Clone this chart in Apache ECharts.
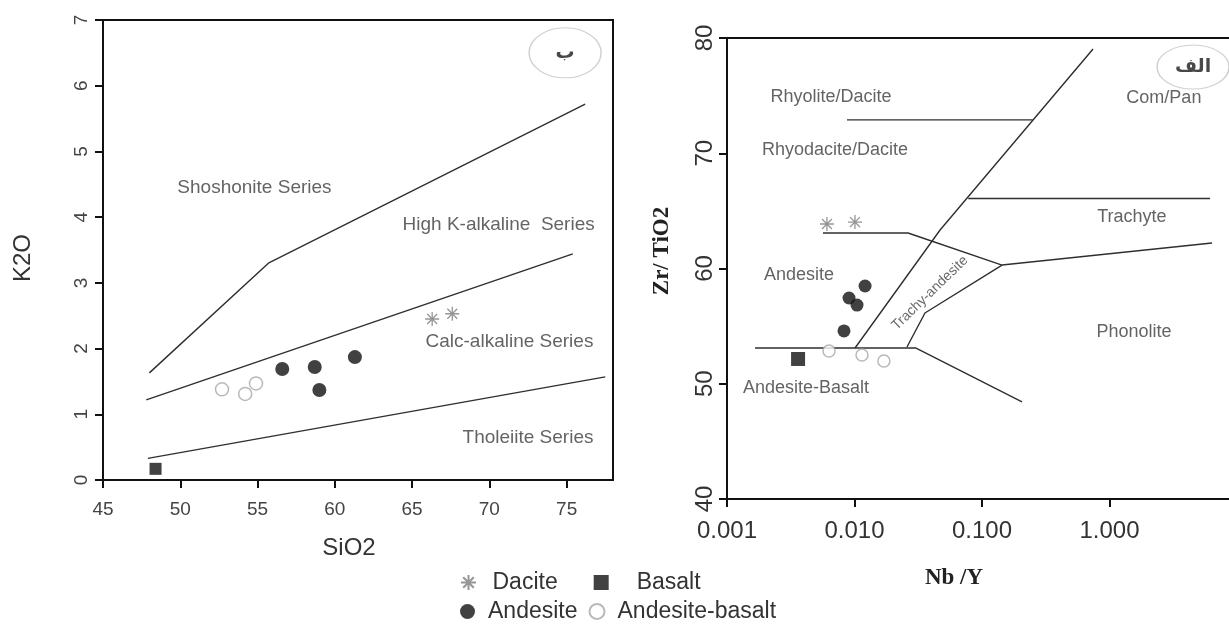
<!DOCTYPE html>
<html><head><meta charset="utf-8">
<script src="https://cdn.jsdelivr.net/npm/echarts@6/dist/echarts.min.js"></script>
<style>html,body{margin:0;padding:0;background:#fff}#c{width:1229px;height:630px}</style>
</head><body><div id="c"></div>
<script>
// ---------- Left diagram: K2O vs SiO2 ----------
const leftXTicks = [45, 50, 55, 60, 65, 70, 75];
const leftBoundaryShoshonite = [[48.0, 1.63], [55.7, 3.30], [76.2, 5.72]];
const leftBoundaryHighK = [[47.8, 1.22], [75.4, 3.44]];
const leftBoundaryTholeiite = [[47.9, 0.33], [77.5, 1.57]];
const leftDacite = [[66.3, 2.45], [67.6, 2.53]];
const leftAndesite = [[56.6, 1.69], [58.7, 1.72], [59.0, 1.37], [61.3, 1.87]];
const leftAndesiteBasalt = [[52.7, 1.38], [54.2, 1.31], [54.9, 1.47]];
const leftBasalt = [[48.4, 0.17]];
const leftFieldNames = ['Shoshonite Series', 'High K-alkaline  Series', 'Calc-alkaline Series', 'Tholeiite Series'];
const leftFieldX = [54.8, 70.6, 71.3, 72.5];
const leftFieldY = [4.44, 3.88, 2.10, 0.65];
const leftPanelMark = ['ب', 74.9, 6.5];

// ---------- Right diagram: Zr/TiO2 vs Nb/Y ----------
const rightXTicks = [0.001, 0.01, 0.1, 1];
const rightBoundaryRhyolite = [[0.00873, 72.9], [0.25, 72.9]];
const rightBoundaryDiagonal = [[0.0101, 53.1], [0.0469, 63.34], [0.743, 79.05]];
const rightBoundaryTrachyte = [[0.078, 66.07], [6.14, 66.07]];
const rightBoundaryAndesite = [[0.00566, 63.08], [0.0263, 63.08], [0.1436, 60.30], [6.37, 62.21]];
const rightBoundaryTrachyAndesite = [[0.0258, 53.19], [0.0357, 56.14], [0.1436, 60.30]];
const rightBoundaryAndesiteBasalt = [[0.00166, 53.1], [0.0304, 53.1], [0.206, 48.42]];
const rightDacite = [[0.00608, 63.86], [0.01008, 64.03]];
const rightAndesite = [[0.0121, 58.48], [0.00906, 57.44], [0.01046, 56.83], [0.00827, 54.58]];
const rightAndesiteBasalt = [[0.00631, 52.84], [0.01145, 52.49], [0.0170, 51.97]];
const rightBasalt = [[0.00361, 52.15]];
const rightFieldNames = ['Rhyolite/Dacite', 'Rhyodacite/Dacite', 'Andesite', 'Andesite-Basalt', 'Com/Pan', 'Trachyte', 'Phonolite'];
const rightFieldX = [0.00654, 0.00703, 0.00367, 0.00417, 2.67, 1.50, 1.556];
const rightFieldY = [74.88, 70.28, 59.44, 49.63, 74.79, 64.47, 54.49];
const rightRotatedField = ['Trachy-andesite', 0.0391, 57.87];
const rightPanelMark = ['الف', 4.52, 77.48];

const legendRow1 = ['Dacite', 'Basalt'];
const legendRow2 = ['Andesite', 'Andesite-basalt'];

// ---------- styles ----------
const SANS = 'Liberation Sans, Arial, sans-serif';
const SERIF = 'Liberation Serif, Times New Roman, serif';
const ASTERISK = 'path://M0,-10L0,10M-10,0L10,0M-7.07,-7.07L7.07,7.07M-7.07,7.07L7.07,-7.07';
const ELLIPSE = 'path://M-1,0A1,1,0,1,1,1,0A1,1,0,1,1,-1,0Z';

function boundary(data, gi) {
  return { type: 'line', data: data, xAxisIndex: gi, yAxisIndex: gi, symbol: 'none', silent: true,
    lineStyle: { color: '#2f2f2f', width: 1.4 }, z: 2 };
}
const styleByType = {
  'Dacite': { symbol: ASTERISK, itemStyle: { color: 'rgba(0,0,0,0)', borderColor: '#7c7c7c', borderWidth: 1.3 } },
  'Basalt': { symbol: 'square', itemStyle: { color: '#111111' } },
  'Andesite': { symbol: 'circle', itemStyle: { color: '#111111' } },
  'Andesite-basalt': { symbol: 'circle', itemStyle: { color: '#ffffff', borderColor: '#a8a8a8', borderWidth: 1.5 } }
};
function points(name, data, gi, size) {
  return Object.assign({ type: 'scatter', name: name, data: data, xAxisIndex: gi, yAxisIndex: gi,
    symbolSize: size, z: 4 }, styleByType[name]);
}
function fieldLabels(names, xs, ys, gi, fs) {
  return { type: 'scatter', xAxisIndex: gi, yAxisIndex: gi, symbolSize: 0, silent: true, z: 5,
    data: names.map((n, i) => ({ name: n, value: [xs[i], ys[i]] })),
    label: { show: true, position: 'inside', formatter: '{b}', color: '#3c3c3c', fontSize: fs, fontFamily: SANS } };
}
function panelMark(mark, gi, w, h) {
  return { type: 'scatter', xAxisIndex: gi, yAxisIndex: gi, symbol: ELLIPSE, symbolSize: [w, h], silent: true, z: 6,
    data: [{ name: mark[0], value: [mark[1], mark[2]] }],
    itemStyle: { color: '#ffffff', borderColor: '#c4c4c4', borderWidth: 1.2 },
    label: { show: true, position: 'inside', formatter: '{b}', color: '#1a1a1a', fontSize: 19, fontWeight: 'bold', fontFamily: 'DejaVu Sans' } };
}

const axisLineStyle = { show: true, lineStyle: { color: '#111', width: 2 } };
const tickStyle = { show: true, length: 8, lineStyle: { color: '#111', width: 2 } };

const option = {
  animation: false,
  backgroundColor: '#ffffff',
  grid: [
    { left: 103, top: 20, width: 510, height: 460, show: true, borderColor: '#111', borderWidth: 2, backgroundColor: 'transparent', outerBoundsMode: 'none', containLabel: false },
    { left: 727, top: 38, width: 510, height: 461, show: true, borderColor: '#111', borderWidth: 2, backgroundColor: 'transparent', outerBoundsMode: 'none', containLabel: false }
  ],
  xAxis: [
    { type: 'value', gridIndex: 0, min: 45, max: 78, splitLine: { show: false },
      axisLine: axisLineStyle,
      axisTick: Object.assign({ customValues: leftXTicks }, tickStyle),
      axisLabel: { customValues: leftXTicks, color: '#444', fontSize: 19, margin: 20, fontFamily: SANS } },
    { type: 'log', logBase: 10, gridIndex: 1, min: 0.001, max: 10, splitLine: { show: false }, minorTick: { show: false },
      axisLine: axisLineStyle,
      axisTick: Object.assign({ customValues: rightXTicks }, tickStyle),
      axisLabel: { customValues: rightXTicks, color: '#333', fontSize: 24, margin: 20, fontFamily: SANS,
        formatter: v => Number(v).toFixed(3) } }
  ],
  yAxis: [
    { type: 'value', gridIndex: 0, min: 0, max: 7, interval: 1, splitLine: { show: false },
      axisLine: axisLineStyle, axisTick: tickStyle,
      axisLabel: { rotate: 90, color: '#444', fontSize: 19, margin: 12, fontFamily: SANS } },
    { type: 'value', gridIndex: 1, min: 40, max: 80, interval: 10, splitLine: { show: false },
      axisLine: axisLineStyle, axisTick: tickStyle,
      axisLabel: { rotate: 90, color: '#333', fontSize: 24, margin: 10, fontFamily: SANS } }
  ],
  legend: [
    { data: legendRow1, left: 460, top: 571, itemWidth: 38, itemHeight: 15, itemGap: 36, padding: 0,
      selectedMode: false, textStyle: { fontSize: 23, color: '#333', fontFamily: SANS } },
    { data: legendRow2, left: 460, top: 600, itemWidth: 31, itemHeight: 15, itemGap: 11, padding: 0,
      selectedMode: false, textStyle: { fontSize: 23, color: '#333', fontFamily: SANS } }
  ],
  graphic: [
    { type: 'text', x: 23, y: 258, rotation: Math.PI / 2, style: { text: 'K2O', font: '24px ' + SANS, fill: '#333', align: 'center', verticalAlign: 'middle' } },
    { type: 'text', x: 349, y: 548, style: { text: 'SiO2', font: '24px ' + SANS, fill: '#333', align: 'center', verticalAlign: 'middle' } },
    { type: 'text', x: 662, y: 251, rotation: Math.PI / 2, style: { text: 'Zr/ TiO2', font: 'bold 23px ' + SERIF, fill: '#222', align: 'center', verticalAlign: 'middle' } },
    { type: 'text', x: 954, y: 578, style: { text: 'Nb /Y', font: 'bold 23px ' + SERIF, fill: '#222', align: 'center', verticalAlign: 'middle' } }
  ],
  series: [
    boundary(leftBoundaryShoshonite, 0),
    boundary(leftBoundaryHighK, 0),
    boundary(leftBoundaryTholeiite, 0),
    fieldLabels(leftFieldNames, leftFieldX, leftFieldY, 0, 19),
    panelMark(leftPanelMark, 0, 72, 50),
    points('Dacite', leftDacite, 0, 14),
    points('Basalt', leftBasalt, 0, 12),
    points('Andesite', leftAndesite, 0, 14),
    points('Andesite-basalt', leftAndesiteBasalt, 0, 13),

    boundary(rightBoundaryRhyolite, 1),
    boundary(rightBoundaryDiagonal, 1),
    boundary(rightBoundaryTrachyte, 1),
    boundary(rightBoundaryAndesite, 1),
    boundary(rightBoundaryTrachyAndesite, 1),
    boundary(rightBoundaryAndesiteBasalt, 1),
    fieldLabels(rightFieldNames, rightFieldX, rightFieldY, 1, 18),
    { type: 'scatter', xAxisIndex: 1, yAxisIndex: 1, symbolSize: 0, silent: true, z: 5,
      data: [{ name: rightRotatedField[0], value: [rightRotatedField[1], rightRotatedField[2]] }],
      label: { show: true, position: 'inside', formatter: '{b}', rotate: 44, color: '#444', fontSize: 14, fontFamily: SANS } },
    panelMark(rightPanelMark, 1, 72, 44),
    points('Dacite', rightDacite, 1, 14),
    points('Basalt', rightBasalt, 1, 14),
    points('Andesite', rightAndesite, 1, 13),
    points('Andesite-basalt', rightAndesiteBasalt, 1, 12)
  ]
};
const chart = echarts.init(document.getElementById('c'), null, { renderer: 'canvas' });
chart.setOption(option);
</script></body></html>
